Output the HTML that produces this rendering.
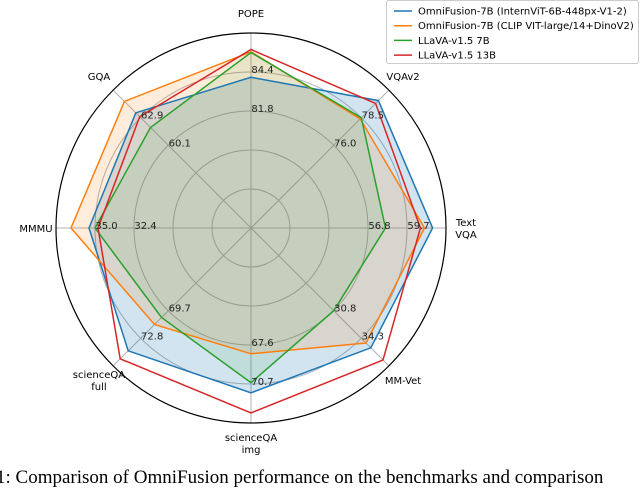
<!DOCTYPE html>
<html><head><meta charset="utf-8"><style>
body{margin:0;background:#fff;width:640px;height:476px;overflow:hidden;position:relative}
svg{position:absolute;left:0;top:0}
text{font-family:"DejaVu Sans","Liberation Sans",sans-serif}
</style></head><body>
<svg id="chart" width="640" height="476" viewBox="0 0 640 476"></svg>
<div style="position:absolute;left:-4px;top:467px;font-family:'Liberation Serif',serif;font-size:19px;white-space:nowrap;color:#000">1: Comparison of OmniFusion performance on the benchmarks and comparison</div>
<script>
const axes = ["POPE","VQAv2","Text\nVQA","MM-Vet","scienceQA\nimg","scienceQA\nfull","MMMU","GQA"];
const tickLow = [81.8,76.0,56.8,30.8,67.6,69.7,32.4,60.1];
const tickHigh = [84.4,78.5,59.7,34.3,70.7,72.8,35.0,62.9];
const seriesNames = ["OmniFusion-7B (InternViT-6B-448px-V1-2)","OmniFusion-7B (CLIP VIT-large/14+DinoV2)","LLaVA-v1.5 7B","LLaVA-v1.5 13B"];
const blueVals = [84.05,80.05,61.6,35.5,71.4,74.2,35.4,63.4];
const orangeVals = [85.75,78.4,61.0,34.9,68.3,71.25,36.6,64.55];
const greenVals = [85.7,78.5,58.1,30.8,70.6,70.46,35.0,61.9];
const redVals = [85.9,79.8,60.7,37.05,73.0,75.1,34.8,63.0];

const NS="http://www.w3.org/2000/svg";
const svg=document.getElementById('chart');
const cx=251, cy=228, R=195;
const colors=["#1f77b4","#ff7f0e","#2ca02c","#d62728"];
const fills=[0.2,0.15,0.1,0];
function mk(t,a){const e=document.createElementNS(NS,t);for(const k in a)e.setAttribute(k,a[k]);svg.appendChild(e);return e;}
function ang(i){return -Math.PI/2+i*2*Math.PI/axes.length;}
function rad(i,v){return R*(0.6+0.2*(v-tickLow[i])/(tickHigh[i]-tickLow[i]));}
function pt(i,r){return [cx+r*Math.cos(ang(i)),cy+r*Math.sin(ang(i))];}

[0.2,0.4,0.6,0.8].forEach(f=>{
  const c=mk('circle',{cx,cy,r:R*f,fill:'none',stroke:'#b0b0b0','stroke-width':1});
  
  
});
axes.forEach((a,i)=>{
  const p=pt(i,R);
  const l=mk('line',{x1:cx,y1:cy,x2:p[0],y2:p[1],stroke:'#b0b0b0','stroke-width':1});
  
  
});
const seriesData=[blueVals,orangeVals,greenVals,redVals];
seriesData.forEach((vals,s)=>{
  const pts=vals.map((v,i)=>pt(i,rad(i,v)).map(n=>n.toFixed(1)).join(',')).join(' ');
  if(fills[s]>0){
    const f=mk('polygon',{points:pts,fill:colors[s],'fill-opacity':fills[s],stroke:'none'});
    
    
  }
});
seriesData.forEach((vals,s)=>{
  const pts=vals.map((v,i)=>pt(i,rad(i,v)).map(n=>n.toFixed(1)).join(',')).join(' ');
  const p=mk('polygon',{points:pts,fill:'none',stroke:colors[s],'stroke-width':1.5,'stroke-linejoin':'miter'});
  
  
});
const outer=mk('circle',{cx,cy,r:R,fill:'none',stroke:'#000','stroke-width':1.2});


axes.forEach((a,i)=>{
  [[0.6,tickLow[i]],[0.8,tickHigh[i]]].forEach(([f,v])=>{
    const p=pt(i,R*f);
    const t=mk('text',{x:p[0]+11.5,y:p[1]+1,'font-size':10,'text-anchor':'middle',fill:'#222'});
    t.textContent=v.toFixed(1);
    
    
  });
  const lp=pt(i,R+20);
  const lines=a.split('\n');
  const t=mk('text',{x:lp[0],y:lp[1]+4-(lines.length-1)*6,'font-size':10,'text-anchor':'middle',fill:'#000'});
  lines.forEach((ln,k)=>{const ts=document.createElementNS(NS,'tspan');ts.setAttribute('x',lp[0]);if(k>0)ts.setAttribute('dy','12');ts.textContent=ln;t.appendChild(ts);});
  
  
});
const box=mk('rect',{x:386.5,y:0.5,width:252,height:63,fill:'#fff','fill-opacity':0.85,stroke:'#ccc',rx:2});


seriesNames.forEach((n,s)=>{
  const y=11+s*14.7;
  const l=mk('line',{x1:394,y1:y,x2:412,y2:y,stroke:colors[s],'stroke-width':1.5});
  
  
  const t=mk('text',{x:418,y:y+3.5,'font-size':10,fill:'#000'});
  t.textContent=n;
  
  
});
</script>
</body></html>
